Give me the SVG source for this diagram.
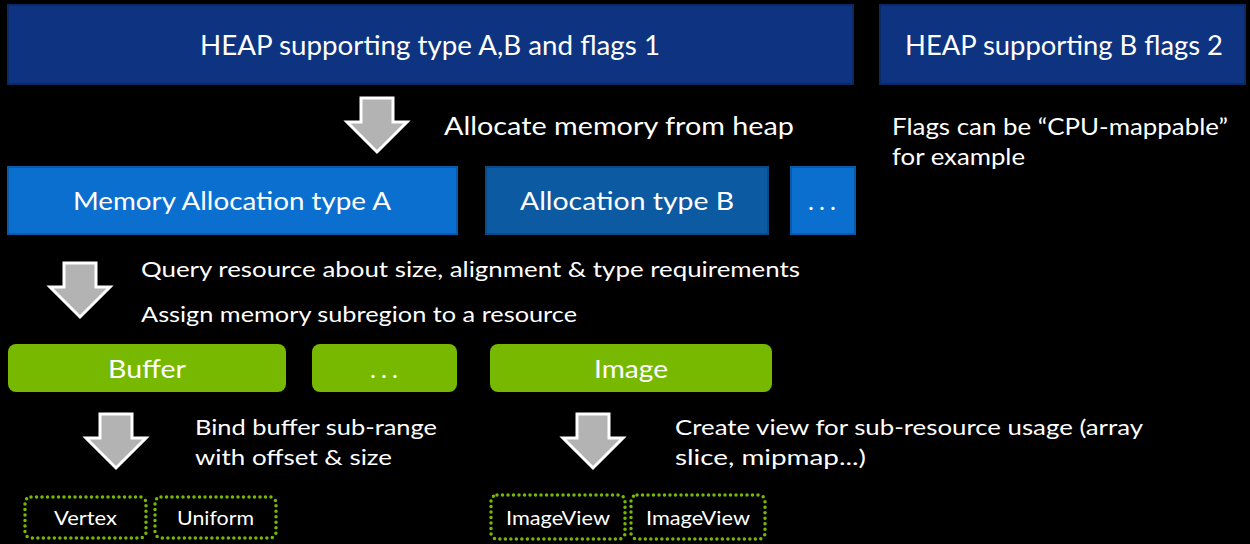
<svg xmlns="http://www.w3.org/2000/svg" xmlns:xlink="http://www.w3.org/1999/xlink" width="1250" height="544" viewBox="0 0 1250 544">
<style>
text{font-family:Lato,"Liberation Sans",sans-serif;fill:#fff}
.heap{fill:#0d3381;stroke:#0a2a66;stroke-width:2}
.allocA{fill:#0b6fcf;stroke:#0a5aa8;stroke-width:2}
.allocB{fill:#0c5aa2;stroke:#0a4a86;stroke-width:2}
.green{fill:#76b900}
.dot{fill:none;stroke:#76b900;stroke-width:3.5;stroke-dasharray:0 5.5;stroke-linecap:round}
.arrow{fill:#b3b3b3;stroke:#fff;stroke-width:3}
.t28{font-size:27px}
.t25{font-size:25px}
.t23{font-size:23px}
.t22{font-size:22px}
.t20{font-size:20px}
.dots{letter-spacing:3px}
</style>
<defs>
<path id="arr" d="M-16,0 H16 V24 H30 L0,54 L-30,24 H-16 Z"/>
</defs>
<rect width="1250" height="544" fill="#000"/>
<g id="heapA"><rect class="heap" x="8" y="5" width="845" height="79"/><text class="t28" x="200" y="55" textLength="460" lengthAdjust="spacingAndGlyphs">HEAP supporting type A,B and flags 1</text></g>
<g id="heapB"><rect class="heap" x="880" y="5" width="365" height="79"/><text class="t28" x="905" y="55" textLength="318" lengthAdjust="spacingAndGlyphs">HEAP supporting B flags 2</text></g>
<g id="allocLabel"><text class="t25" x="444" y="135" textLength="350" lengthAdjust="spacingAndGlyphs">Allocate memory from heap</text></g>
<g id="flagsNote"><text class="t23" x="892" y="135" textLength="336" lengthAdjust="spacingAndGlyphs">Flags can be “CPU-mappable”</text><text class="t23" x="892" y="165" textLength="133" lengthAdjust="spacingAndGlyphs">for example</text></g>
<g id="allocA"><rect class="allocA" x="8" y="167" width="449" height="67"/><text class="t25" x="73" y="210" textLength="318" lengthAdjust="spacingAndGlyphs">Memory Allocation type A</text></g>
<g id="allocB"><rect class="allocB" x="486" y="167" width="282" height="67"/><text class="t25" x="520" y="210" textLength="214" lengthAdjust="spacingAndGlyphs">Allocation type B</text></g>
<g id="allocMore"><rect class="allocA" x="791" y="167" width="64" height="67"/><text class="t25" x="808" y="210" textLength="28" lengthAdjust="spacing">...</text></g>
<g id="queryLabel"><text class="t22" x="141" y="277" textLength="659" lengthAdjust="spacingAndGlyphs">Query resource about size, alignment &amp; type requirements</text><text class="t22" x="141" y="322" textLength="436" lengthAdjust="spacingAndGlyphs">Assign memory subregion to a resource</text></g>
<g id="buffer"><rect class="green" x="8" y="344" width="278" height="48" rx="8"/><text class="t25" x="108" y="378" textLength="78" lengthAdjust="spacingAndGlyphs">Buffer</text></g>
<g id="resMore"><rect class="green" x="312" y="344" width="145" height="48" rx="8"/><text class="t25" x="370" y="378" textLength="28" lengthAdjust="spacing">...</text></g>
<g id="image"><rect class="green" x="490" y="344" width="282" height="48" rx="8"/><text class="t25" x="594" y="378" textLength="74" lengthAdjust="spacingAndGlyphs">Image</text></g>
<g id="bindLabel"><text class="t22" x="195" y="435" textLength="242" lengthAdjust="spacingAndGlyphs">Bind buffer sub-range</text><text class="t22" x="195" y="465" textLength="197" lengthAdjust="spacingAndGlyphs">with offset &amp; size</text></g>
<g id="viewLabel"><text class="t22" x="675" y="435" textLength="468" lengthAdjust="spacingAndGlyphs">Create view for sub-resource usage (array</text><text class="t22" x="675" y="465" textLength="191" lengthAdjust="spacingAndGlyphs">slice, mipmap...)</text></g>
<g id="vertex"><rect class="dot" x="25" y="497" width="121" height="41" rx="6"/><text class="t20" x="54" y="525" textLength="63" lengthAdjust="spacingAndGlyphs">Vertex</text></g>
<g id="uniform"><rect class="dot" x="155" y="497" width="121" height="41" rx="6"/><text class="t20" x="177" y="525" textLength="77" lengthAdjust="spacingAndGlyphs">Uniform</text></g>
<g id="imageView1"><rect class="dot" x="491" y="495" width="134" height="44" rx="6"/><text class="t20" x="506" y="525" textLength="104" lengthAdjust="spacingAndGlyphs">ImageView</text></g>
<g id="imageView2"><rect class="dot" x="631" y="495" width="134" height="44" rx="6"/><text class="t20" x="646" y="525" textLength="104" lengthAdjust="spacingAndGlyphs">ImageView</text></g>
<g id="connectors">
<use xlink:href="#arr" class="arrow" transform="translate(377,98)"/>
<use xlink:href="#arr" class="arrow" transform="translate(80,263)"/>
<use xlink:href="#arr" class="arrow" transform="translate(116,414)"/>
<use xlink:href="#arr" class="arrow" transform="translate(593,414)"/>
</g>
</svg>
